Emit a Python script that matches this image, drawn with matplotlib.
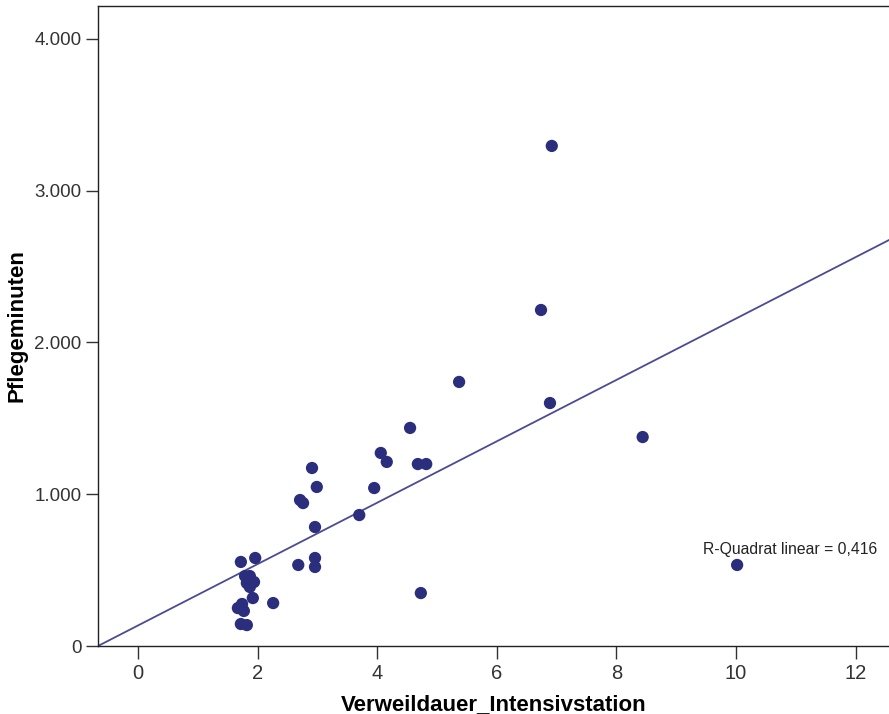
import numpy as np
import matplotlib
matplotlib.use('Agg')
import matplotlib.pyplot as plt
from matplotlib.ticker import FuncFormatter

# Verweildauer (Tage) und Pflegeminuten
verweildauer = [6.92, 6.74, 5.37, 6.89, 8.44, 4.55, 4.06, 4.16, 4.68, 4.82,
                2.91, 2.99, 3.95, 2.71, 2.76, 2.96, 3.70, 10.02, 4.73, 2.68,
                2.96, 2.96, 2.26,
                1.72, 1.96, 1.79, 1.87, 1.82, 1.94, 1.87, 1.92, 1.74, 1.67,
                1.77, 1.72, 1.82]
pflegeminuten = [3295, 2214, 1740, 1601, 1377, 1437, 1272, 1213, 1199, 1199,
                 1173, 1048, 1041, 962, 942, 784, 863, 534, 349, 534,
                 580, 521, 283,
                 554, 580, 461, 461, 415, 422, 389, 316, 277, 250,
                 231, 145, 138]

# Regressionsgerade wie im Bild
intercept = 135.5
slope = 202.2
r2_text = 'R-Quadrat linear = 0,416'

x_ticks = [0, 2, 4, 6, 8, 10, 12]
y_ticks = [0, 1000, 2000, 3000, 4000]

plt.rcParams['font.family'] = ['Liberation Sans', 'DejaVu Sans']

fig = plt.figure(figsize=(8.89, 7.14), dpi=100)
ax = fig.add_axes([0.1102, 0.0952, 0.8898, 0.8964])

xmin, xmax = -0.67, 12.56
ax.set_xlim(xmin, xmax)
ax.set_ylim(0, 4217)

xs = np.array([xmin, xmax])
ax.plot(xs, intercept + slope * xs, color='#4b4b94', lw=1.3, zorder=2)
ax.scatter(verweildauer, pflegeminuten, s=78, color='#2b2e7c', edgecolors='none',
           zorder=3, clip_on=False)

ax.text(12.37, 639, r2_text, ha='right', va='center', fontsize=11.3, color='#222222')

ax.set_xticks(x_ticks)
ax.set_yticks(y_ticks)

def de_fmt(v, pos):
    return '{:,.0f}'.format(v).replace(',', '.')

ax.yaxis.set_major_formatter(FuncFormatter(de_fmt))
ax.tick_params(axis='both', direction='out', length=9, width=1, color='#333333',
               labelcolor='#333333', pad=4)
ax.tick_params(axis='x', labelsize=14.5)
ax.tick_params(axis='y', labelsize=13.5, pad=3)

for s in ['left', 'top', 'bottom']:
    ax.spines[s].set_color('#222222')
    ax.spines[s].set_linewidth(1.0)
ax.spines['right'].set_visible(False)

ax.set_xlabel('Verweildauer_Intensivstation', fontsize=16, fontweight='bold', labelpad=8)
ax.set_ylabel('Pflegeminuten', fontsize=16, fontweight='bold', labelpad=5)

fig.savefig('out.png', dpi=100)
